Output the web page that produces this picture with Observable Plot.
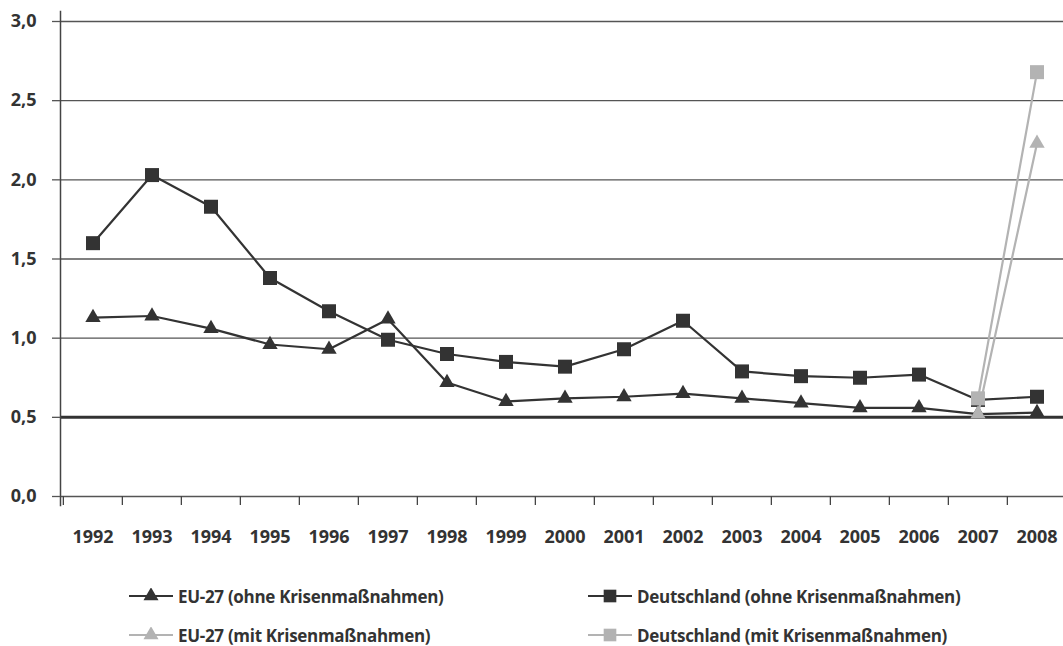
<!DOCTYPE html>
<html>
<head>
<meta charset="utf-8">
<script src="https://cdn.jsdelivr.net/npm/d3@7"></script>
<script src="https://cdn.jsdelivr.net/npm/@observablehq/plot@0.6"></script>
<style>
  body { margin: 0; background: #fff; font-family: "Open Sans", sans-serif; color: #333; }
  #chart svg { display: block; }
  #legend { position: relative; width: 1063px; height: 86px; }
  .item { position: absolute; display: flex; align-items: center; font-size: 17px; font-weight: 700; letter-spacing: -0.3px; white-space: nowrap; }
  .item svg { display: block; margin-right: 5px; }
</style>
</head>
<body>
<div id="chart"></div>
<div id="legend"></div>
<script>
// Years on the x axis
const years = ["1992","1993","1994","1995","1996","1997","1998","1999","2000",
               "2001","2002","2003","2004","2005","2006","2007","2008"];

// EU-27 and Germany, without crisis measures
const euOhne = [1.13, 1.14, 1.06, 0.96, 0.93, 1.12, 0.72, 0.60, 0.62,
                0.63, 0.65, 0.62, 0.59, 0.56, 0.56, 0.52, 0.53];
const deOhne = [1.60, 2.03, 1.83, 1.38, 1.17, 0.99, 0.90, 0.85, 0.82,
                0.93, 1.11, 0.79, 0.76, 0.75, 0.77, 0.61, 0.63];

// With crisis measures (2007–2008 only)
const mitYears = ["2007", "2008"];
const euMit = [0.52, 2.23];
const deMit = [0.62, 2.68];

// y axis ticks
const yTicks = [0, 0.5, 1, 1.5, 2, 2.5, 3];

const dark = "#333333";
const light = "#b3b3b3";

const rows = (yrs, vals) => yrs.map((year, i) => ({year, value: vals[i]}));
const euOhneData = rows(years, euOhne);
const deOhneData = rows(years, deOhne);
const euMitData = rows(mitYears, euMit);
const deMitData = rows(mitYears, deMit);

const xRange = [60, 1068];
const bw = (xRange[1] - xRange[0]) / years.length;
const fmt = d => d.toFixed(1).replace(".", ",");

const chart = Plot.plot({
  width: 1063,
  height: 560,
  marginLeft: 60,
  marginRight: 0,
  marginTop: 11,
  marginBottom: 55,
  x: {type: "band", domain: years, range: xRange, padding: 0},
  y: {domain: [0, 3], range: [496, 21]},
  style: {fontFamily: "Open Sans, sans-serif", color: dark, background: "#fff", overflow: "visible"},
  marks: [
    Plot.ruleY(yTicks.filter(d => d !== 0.5), {stroke: "#555", strokeWidth: 1.3}),
    Plot.ruleY([0.5], {stroke: dark, strokeWidth: 3}),
    Plot.frame({anchor: "left", stroke: "#444", strokeWidth: 1.5}),
    Plot.axisY(yTicks, {tickSize: 8, tickPadding: 16, tickFormat: fmt, fontSize: 18, fontWeight: 700,
                        stroke: "#555", strokeWidth: 1.3, label: null}),
    // category boundary ticks
    Plot.axisX({tickSize: 9, dy: -9, dx: -bw / 2, tickFormat: () => "", stroke: "#444", strokeWidth: 1.3, label: null}),
    // year labels
    Plot.axisX({tickSize: 0, tickPadding: 25, fontSize: 18, fontWeight: 700, label: null}),

    Plot.line(euOhneData, {x: "year", y: "value", stroke: dark, strokeWidth: 2.2}),
    Plot.line(deOhneData, {x: "year", y: "value", stroke: dark, strokeWidth: 2.2}),
    Plot.dot(euOhneData, {x: "year", y: "value", symbol: "triangle", r: 5.7, fill: dark}),
    Plot.dot(deOhneData, {x: "year", y: "value", symbol: "square", r: 7.9, fill: dark}),

    Plot.line(euMitData, {x: "year", y: "value", stroke: light, strokeWidth: 2.2}),
    Plot.line(deMitData, {x: "year", y: "value", stroke: light, strokeWidth: 2.2}),
    Plot.dot(euMitData, {x: "year", y: "value", symbol: "triangle", r: 5.7, fill: light}),
    Plot.dot(deMitData, {x: "year", y: "value", symbol: "square", r: 7.9, fill: light})
  ]
});
document.getElementById("chart").append(chart);

// Legend below the chart
const legendItems = [
  {label: "EU-27 (ohne Krisenmaßnahmen)", color: dark, symbol: d3.symbolTriangle, size: 98, left: 129, top: 36},
  {label: "Deutschland (ohne Krisenmaßnahmen)", color: dark, symbol: d3.symbolSquare, size: 160, left: 588, top: 36},
  {label: "EU-27 (mit Krisenmaßnahmen)", color: light, symbol: d3.symbolTriangle, size: 98, left: 129, top: 75},
  {label: "Deutschland (mit Krisenmaßnahmen)", color: light, symbol: d3.symbolSquare, size: 160, left: 588, top: 75}
];
const legend = d3.select("#legend");
for (const it of legendItems) {
  const div = legend.append("div").attr("class", "item")
    .style("left", it.left + "px").style("top", (it.top - 11) + "px").style("height", "22px");
  const svg = div.append("svg").attr("width", 44).attr("height", 16);
  svg.append("line").attr("x1", 0).attr("x2", 44).attr("y1", 8).attr("y2", 8)
    .attr("stroke", it.color).attr("stroke-width", 2.2);
  svg.append("path").attr("transform", "translate(22,8)")
    .attr("d", d3.symbol(it.symbol, it.size)()).attr("fill", it.color);
  div.append("span").text(it.label);
}
</script>
</body>
</html>
